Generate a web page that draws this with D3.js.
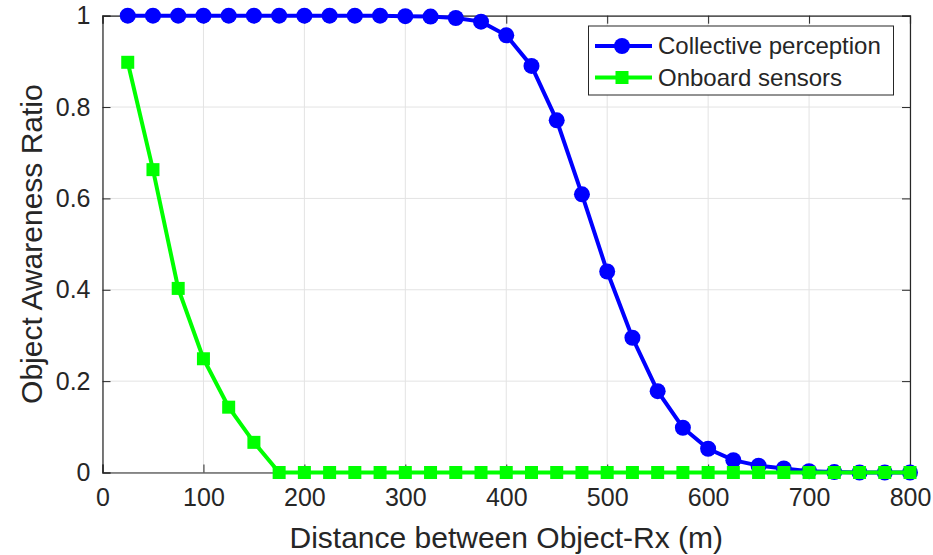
<!DOCTYPE html>
<html>
<head>
<meta charset="utf-8">
<script src="https://cdn.jsdelivr.net/npm/d3@7"></script>
<style>
  body { margin: 0; background: #fff; }
  text { font-family: "Liberation Sans", Arial, sans-serif; fill: #262626; }
</style>
</head>
<body>
<div id="chart"></div>
<script>
var width = 933,
height = 555;

// distances (m)
var distance = [25, 50, 75, 100, 125, 150, 175, 200, 225, 250, 275, 300, 325, 350, 375, 400,
  425, 450, 475, 500, 525, 550, 575, 600, 625, 650, 675, 700, 725, 750, 775, 800];
var collective = [1, 1, 1, 1, 1, 1, 1, 1, 1, 1, 1, 0.999, 0.998, 0.995, 0.987, 0.957,
  0.89, 0.771, 0.609, 0.44, 0.295, 0.178, 0.098, 0.052, 0.027, 0.015, 0.009, 0.003, 0.001, 0, 0, 0];
var onboard = [0.898, 0.663, 0.403, 0.249, 0.143, 0.066, 0, 0, 0, 0, 0, 0, 0, 0, 0, 0,
  0, 0, 0, 0, 0, 0, 0, 0, 0, 0, 0, 0, 0, 0, 0, 0];
var xTicks = [0, 100, 200, 300, 400, 500, 600, 700, 800];
var yTicks = [0, 0.2, 0.4, 0.6, 0.8, 1];
var legend = ['Collective perception', 'Onboard sensors'];

var mLeft = 102.5, mRight = 910, mTop = 15.7, mBottom = 472.5;

const xScale = d3.scaleLinear().domain([0, 800]).range([mLeft, mRight]);
const yScale = d3.scaleLinear().domain([0, 1]).range([mBottom, mTop]);

const svg = d3.select('#chart').
append('svg').
attr('width', width).
attr('height', height);

// grid
svg.append('g').
selectAll('line').
data(xTicks).
enter().
append('line').
attr('x1', d => xScale(d)).
attr('x2', d => xScale(d)).
attr('y1', mTop).
attr('y2', mBottom).
attr('stroke', '#e3e3e3').
attr('stroke-width', 1);

svg.append('g').
selectAll('line').
data(yTicks).
enter().
append('line').
attr('x1', mLeft).
attr('x2', mRight).
attr('y1', d => yScale(d)).
attr('y2', d => yScale(d)).
attr('stroke', '#e3e3e3').
attr('stroke-width', 1);

// axes (ticks inward on all sides)
const xAxis = d3.axisBottom(xScale).tickValues(xTicks).tickSize(-8).tickPadding(16).tickFormat(d3.format('d'));
const xTop = d3.axisTop(xScale).tickValues(xTicks).tickSize(-8).tickFormat('');
const yAxis = d3.axisLeft(yScale).tickValues(yTicks).tickSize(-8).tickPadding(12).tickFormat(d => d === 0 || d === 1 ? d : d3.format('.1f')(d));
const yRight = d3.axisRight(yScale).tickValues(yTicks).tickSize(-8).tickFormat('');

function styleAxis(g) {
  g.select('.domain').attr('stroke', '#262626').attr('stroke-width', 1.2);
  g.selectAll('.tick line').attr('stroke', '#262626');
  g.selectAll('.tick text').attr('font-size', '25px').attr('fill', '#262626').
  attr('font-family', '"Liberation Sans", Arial, sans-serif');
}

svg.append('g').attr('transform', 'translate(0,' + mBottom + ')').call(xAxis).call(styleAxis);
svg.append('g').attr('transform', 'translate(0,' + mTop + ')').call(xTop).call(styleAxis);
svg.append('g').attr('transform', 'translate(' + mLeft + ',0)').call(yAxis).call(styleAxis);
svg.append('g').attr('transform', 'translate(' + mRight + ',0)').call(yRight).call(styleAxis);

// lines
const line = d3.line().x(d => xScale(d[0])).y(d => yScale(d[1]));
const blueData = distance.map((d, i) => [d, collective[i]]);
const greenData = distance.map((d, i) => [d, onboard[i]]);

svg.append('path').
datum(blueData).
attr('d', line).
attr('fill', 'none').
attr('stroke', '#0000ff').
attr('stroke-width', 4);

svg.selectAll('.dot').
data(blueData).
enter().
append('circle').
attr('class', 'dot').
attr('cx', d => xScale(d[0])).
attr('cy', d => yScale(d[1])).
attr('r', 8).
attr('fill', '#0000ff');

svg.append('path').
datum(greenData).
attr('d', line).
attr('fill', 'none').
attr('stroke', '#00ff00').
attr('stroke-width', 4);

svg.selectAll('.sq').
data(greenData).
enter().
append('rect').
attr('class', 'sq').
attr('x', d => xScale(d[0]) - 6.5).
attr('y', d => yScale(d[1]) - 6.5).
attr('width', 13).
attr('height', 13).
attr('fill', '#00ff00');

// labels
svg.append('text').
attr('x', (mLeft + mRight) / 2).
attr('y', 548).
attr('text-anchor', 'middle').
attr('font-size', '30px').
text('Distance between Object-Rx (m)');

svg.append('text').
attr('transform', 'translate(42,' + (mBottom + mTop) / 2 + ') rotate(-90)').
attr('text-anchor', 'middle').
attr('font-size', '30px').
text('Object Awareness Ratio');

// legend
const lg = svg.append('g');
lg.append('rect').
attr('x', 588.5).
attr('y', 26).
attr('width', 305).
attr('height', 69).
attr('fill', '#fff').
attr('stroke', '#262626').
attr('stroke-width', 1);

var legendColors = ['#0000ff', '#00ff00'];
lg.selectAll('.lline').
data(legend).
enter().
append('line').
attr('x1', 595).
attr('x2', 652).
attr('y1', (d, i) => 46 + i * 31.5).
attr('y2', (d, i) => 46 + i * 31.5).
attr('stroke', (d, i) => legendColors[i]).
attr('stroke-width', 4);

lg.append('circle').attr('cx', 622).attr('cy', 46).attr('r', 8).attr('fill', '#0000ff');
lg.append('rect').attr('x', 615.5).attr('y', 77.5 - 6.5).attr('width', 13).attr('height', 13).attr('fill', '#00ff00');

lg.selectAll('.ltext').
data(legend).
enter().
append('text').
attr('x', 658).
attr('y', (d, i) => 46 + i * 31.5).
attr('dy', '0.35em').
attr('font-size', '24px').
text(d => d);
</script>
</body>
</html>
